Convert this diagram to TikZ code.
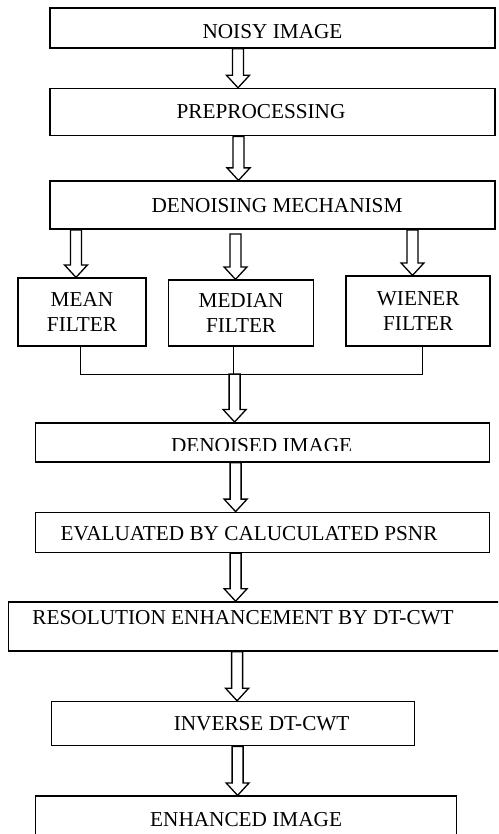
\documentclass[tikz,border=0pt]{standalone}
\usepackage{fontspec}
\setmainfont{Liberation Serif}
\usetikzlibrary{positioning,calc}
\tikzset{
  stage/.style 2 args={draw,line width=1.6pt,minimum width=#1,minimum height=#2,inner sep=0pt},
  merge/.style={line width=1pt},
  blockarr/.style={draw,line width=1.3pt,
    to path={let \p1=(\tikztostart),\p2=(\tikztotarget) in
      (\x1-5.5pt,\y1) -- (\x1-5.5pt,\y2+12.5pt) -- (\x1-11.5pt,\y2+12.5pt) -- (\x1,\y2)
      -- (\x1+11.5pt,\y2+12.5pt) -- (\x1+5.5pt,\y2+12.5pt) -- (\x1+5.5pt,\y1) -- cycle}}
}
\begin{document}
\begin{tikzpicture}[x=1pt,y=1pt,font=\fontsize{21.25}{25}\selectfont]
	\useasboundingbox (0,0) rectangle (498,-834);
	\clip (0,0) rectangle (498,-834);

	\node[stage={445pt}{40pt},label={[yshift=-3.5pt]center:NOISY IMAGE}] (noisy) at (272.5,-28) {};
	\node[stage={445pt}{47pt},below=39pt of noisy,label={[xshift=-11.5pt,yshift=1pt]center:PREPROCESSING}] (prep) {};
	\node[stage={445pt}{48pt},below=44pt of prep,label={[xshift=4.5pt]center:DENOISING MECHANISM}] (denoise) {};

	% the three filters
	\node[stage={128pt}{68pt},anchor=south west,align=center] (mean) at ([shift={(-32pt,-117pt)}]denoise.south west) {MEAN\\FILTER};
	\node[stage={145pt}{66pt},right=21pt of mean.south east,anchor=south west,align=center] (median) {MEDIAN\\FILTER};
	\node[stage={144pt}{70pt},right=31pt of median.south east,anchor=south west,align=center] (wiener) {WIENER\\FILTER};
	\coordinate[below=27pt of median.south] (join);

	\node[stage={454pt}{39pt},below=48pt of join,xshift=21.5pt] (denoised) {};
	\begin{scope}
		\clip (denoised.north west) rectangle ([yshift=-28.5pt]denoised.north east);
		\node[xshift=-1pt,yshift=-3pt] (denoisedtxt) at (denoised) {DENOISED IMAGE};
	\end{scope}
	\node[stage={454pt}{40pt},below=49pt of denoised,label={[xshift=-13.5pt,yshift=-1.5pt]center:EVALUATED BY CALUCULATED PSNR}] (eval) {};
	\node[stage={508pt}{49pt},below=48pt of eval,label={[xshift=-19.5pt,yshift=8.5pt]center:RESOLUTION ENHANCEMENT BY DT-CWT}] (resol) {};
	\node[stage={363pt}{44pt},below=49pt of resol,xshift=-29.5pt,label={[xshift=28.5pt]center:INVERSE DT-CWT}] (inverse) {};
	\node[stage={421pt}{56pt},below=49pt of inverse,xshift=13pt,label={[yshift=4.5pt]center:ENHANCED IMAGE}] (enhanced) {};

	% hollow arrows
	\draw[blockarr] ([xshift=-34.5pt]noisy.south) to (prep.north);
	\draw[blockarr] ([xshift=-34pt]prep.south) to (denoise.north);
	\draw[blockarr] ([xshift=-196.5pt]denoise.south) to (mean.north);
	\draw[blockarr] ([xshift=-37pt,yshift=-4pt]denoise.south) to (median.north);
	\draw[blockarr] ([xshift=140pt]denoise.south) to (wiener.north);

	\draw[merge] ([xshift=-2pt]mean.south) |- ([xshift=4pt,yshift=-27pt]wiener.south) -- ([xshift=4pt]wiener.south);
	\draw[merge] ([xshift=-7.5pt]median.south) -- ++(0,-27pt);
	\draw[blockarr] ([xshift=-6.5pt]join) to (denoised.north);

	\draw[blockarr] ([xshift=-27pt]denoised.south) to (eval.north);
	\draw[blockarr] ([xshift=-27pt]eval.south) to (resol.north);
	\draw[blockarr] ([xshift=-25.5pt]resol.south) to (inverse.north);
	\draw[blockarr] ([xshift=4.5pt]inverse.south) to (enhanced.north);
\end{tikzpicture}
\end{document}
